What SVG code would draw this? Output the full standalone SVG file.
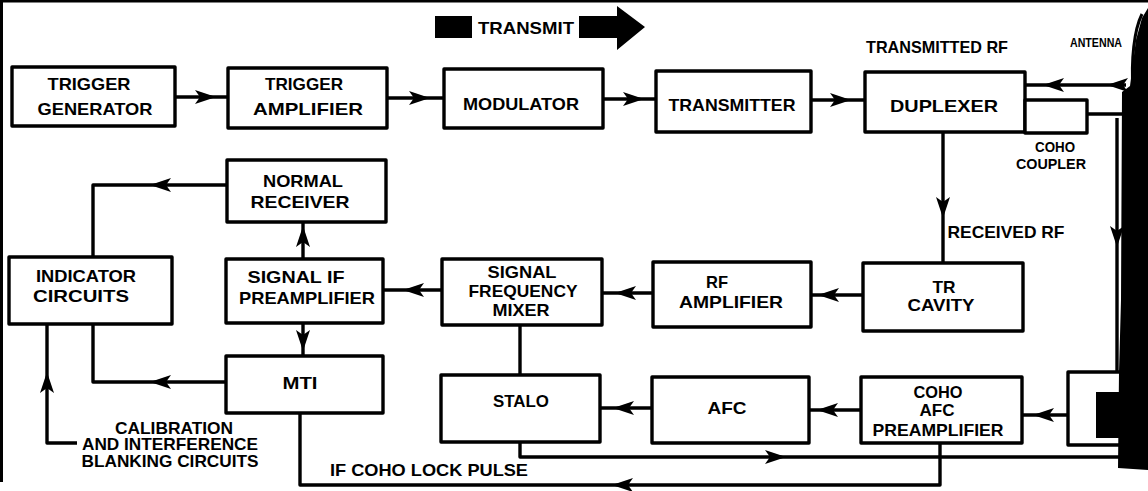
<svg xmlns="http://www.w3.org/2000/svg" xmlns:xlink="http://www.w3.org/1999/xlink" width="1148" height="491" viewBox="0 0 1148 491">
<style>
.box{fill:#fff;stroke:#000;stroke-width:3.4;stroke-linejoin:round}
.ln{fill:none;stroke:#000;stroke-width:3.4;stroke-linejoin:round}
text{font-family:"Liberation Sans",Arial,sans-serif;font-weight:bold;font-size:16.5px;fill:#000;text-anchor:middle}
.sm{font-size:14px}
.xs{font-size:12px}
</style>
<defs>
<path id="ah" d="M0,0 L-21,-7 L-16,0 L-21,7 Z" fill="#000"/>
</defs>
<rect x="0" y="0" width="1148" height="491" fill="#fff"/>
<rect x="0" y="0" width="1148" height="2.5" fill="#000"/>
<rect x="0" y="0" width="3" height="482" fill="#000"/>

<g id="transmit">
<rect x="435" y="16" width="37" height="22" fill="#000"/>
<text x="526" y="34" textLength="96" lengthAdjust="spacingAndGlyphs">TRANSMIT</text>
<polygon points="579,16 617,16 617,6 645,27 617,50 617,38 579,38" fill="#000"/>
</g>

<g id="connectors">
<path class="ln" d="M175,97 H228"/>
<path class="ln" d="M387,98 H444"/>
<path class="ln" d="M603,99 H656"/>
<path class="ln" d="M811,100 H865"/>
<path class="ln" d="M1025,85 H1126"/>
<path class="ln" d="M1087,114 H1126"/>
<path class="ln" d="M943,132 V263"/>
<path class="ln" d="M863,295 H811"/>
<path class="ln" d="M653,293 H602"/>
<path class="ln" d="M442,290 H383"/>
<path class="ln" d="M303,259 V222"/>
<path class="ln" d="M303,323 V356"/>
<path class="ln" d="M227,185 H93 V257"/>
<path class="ln" d="M226,382 H93 V324"/>
<path class="ln" d="M77,443 H47 V324"/>
<path class="ln" d="M520,325 V375"/>
<path class="ln" d="M652,408 H600"/>
<path class="ln" d="M861,410 H809"/>
<path class="ln" d="M1068,415 H1022"/>
<path class="ln" d="M520,442 V457 H1126"/>
<path class="ln" d="M940,443 V485 H300 V413"/>
<path class="ln" d="M1117,118 V372" stroke-width="2.5"/>
<use xlink:href="#ah" transform="translate(216,97)"/>
<use xlink:href="#ah" transform="translate(430,98)"/>
<use xlink:href="#ah" transform="translate(644,99)"/>
<use xlink:href="#ah" transform="translate(851,100)"/>
<use xlink:href="#ah" transform="translate(1043,85) rotate(180)"/>
<use xlink:href="#ah" transform="translate(1107,85) rotate(180)"/>
<use xlink:href="#ah" transform="translate(943,218) rotate(90)"/>
<use xlink:href="#ah" transform="translate(818,295) rotate(180)"/>
<use xlink:href="#ah" transform="translate(615,293) rotate(180)"/>
<use xlink:href="#ah" transform="translate(403,290) rotate(180)"/>
<use xlink:href="#ah" transform="translate(303,226) rotate(-90)"/>
<use xlink:href="#ah" transform="translate(303,351) rotate(90)"/>
<use xlink:href="#ah" transform="translate(150,185) rotate(180)"/>
<use xlink:href="#ah" transform="translate(150,382) rotate(180)"/>
<use xlink:href="#ah" transform="translate(47,372) rotate(-90)"/>
<use xlink:href="#ah" transform="translate(613,408) rotate(180)"/>
<use xlink:href="#ah" transform="translate(817,410) rotate(180)"/>
<use xlink:href="#ah" transform="translate(1033,415) rotate(180)"/>
<use xlink:href="#ah" transform="translate(786,457)"/>
<use xlink:href="#ah" transform="translate(612,485) rotate(180)"/>
<use xlink:href="#ah" transform="translate(1117,247) rotate(90)"/>
</g>

<g id="trigger-generator">
<rect class="box" x="12" y="67" width="163" height="59"/>
<text x="89" y="90" textLength="83" lengthAdjust="spacingAndGlyphs">TRIGGER</text>
<text x="95" y="115" textLength="115" lengthAdjust="spacingAndGlyphs">GENERATOR</text>
</g>
<g id="trigger-amplifier">
<rect class="box" x="228" y="68" width="159" height="60"/>
<text x="304" y="90" textLength="78" lengthAdjust="spacingAndGlyphs">TRIGGER</text>
<text x="308" y="115" textLength="110" lengthAdjust="spacingAndGlyphs">AMPLIFIER</text>
</g>
<g id="modulator">
<rect class="box" x="444" y="69" width="159" height="59"/>
<text x="521" y="110" textLength="116" lengthAdjust="spacingAndGlyphs">MODULATOR</text>
</g>
<g id="transmitter">
<rect class="box" x="656" y="71" width="155" height="61"/>
<text x="732" y="111" textLength="127" lengthAdjust="spacingAndGlyphs">TRANSMITTER</text>
</g>
<g id="duplexer">
<rect class="box" x="865" y="72" width="160" height="60"/>
<text x="944" y="112" textLength="108" lengthAdjust="spacingAndGlyphs">DUPLEXER</text>
</g>
<g id="coho-coupler">
<rect class="box" x="1025" y="100" width="62" height="33"/>
<text class="sm" x="1055" y="152" textLength="40" lengthAdjust="spacingAndGlyphs">COHO</text>
<text class="sm" x="1051" y="169" textLength="70" lengthAdjust="spacingAndGlyphs">COUPLER</text>
</g>
<g id="normal-receiver">
<rect class="box" x="227" y="160" width="159" height="62"/>
<text x="303" y="187" textLength="80" lengthAdjust="spacingAndGlyphs">NORMAL</text>
<text x="300" y="208" textLength="99" lengthAdjust="spacingAndGlyphs">RECEIVER</text>
</g>
<g id="indicator-circuits">
<rect class="box" x="9" y="257" width="163" height="67"/>
<text x="86" y="282" textLength="100" lengthAdjust="spacingAndGlyphs">INDICATOR</text>
<text x="81" y="302" textLength="96" lengthAdjust="spacingAndGlyphs">CIRCUITS</text>
</g>
<g id="signal-if-preamplifier">
<rect class="box" x="226" y="259" width="157" height="64"/>
<text x="296" y="283" textLength="97" lengthAdjust="spacingAndGlyphs">SIGNAL  IF</text>
<text x="307" y="304" textLength="136" lengthAdjust="spacingAndGlyphs">PREAMPLIFIER</text>
</g>
<g id="mti">
<rect class="box" x="226" y="356" width="157" height="57"/>
<text x="300" y="389" textLength="35" lengthAdjust="spacingAndGlyphs">MTI</text>
</g>
<g id="signal-frequency-mixer">
<rect class="box" x="442" y="259" width="160" height="66"/>
<text x="522" y="278" textLength="69" lengthAdjust="spacingAndGlyphs">SIGNAL</text>
<text x="523" y="297" textLength="109" lengthAdjust="spacingAndGlyphs">FREQUENCY</text>
<text x="521" y="316" textLength="57" lengthAdjust="spacingAndGlyphs">MIXER</text>
</g>
<g id="rf-amplifier">
<rect class="box" x="653" y="262" width="158" height="65"/>
<text x="717" y="288">RF</text>
<text x="731" y="308" textLength="104" lengthAdjust="spacingAndGlyphs">AMPLIFIER</text>
</g>
<g id="tr-cavity">
<rect class="box" x="863" y="263" width="160" height="68"/>
<text x="944" y="293" textLength="23" lengthAdjust="spacingAndGlyphs">TR</text>
<text x="941" y="311" textLength="67" lengthAdjust="spacingAndGlyphs">CAVITY</text>
</g>
<g id="stalo">
<rect class="box" x="441" y="375" width="159" height="67"/>
<text x="521" y="407" textLength="56" lengthAdjust="spacingAndGlyphs">STALO</text>
</g>
<g id="afc">
<rect class="box" x="652" y="377" width="157" height="66"/>
<text x="727" y="414" textLength="39" lengthAdjust="spacingAndGlyphs">AFC</text>
</g>
<g id="coho-afc-preamplifier">
<rect class="box" x="861" y="377" width="161" height="66"/>
<text x="938" y="398" textLength="49" lengthAdjust="spacingAndGlyphs">COHO</text>
<text x="937" y="416" textLength="35" lengthAdjust="spacingAndGlyphs">AFC</text>
<text x="938" y="436" textLength="131" lengthAdjust="spacingAndGlyphs">PREAMPLIFIER</text>
</g>
<g id="coho-box">
<rect class="box" x="1068" y="372" width="90" height="73"/>
</g>

<g id="labels">
<text x="937" y="53" textLength="142" lengthAdjust="spacingAndGlyphs">TRANSMITTED RF</text>
<text class="xs" x="1096" y="47" textLength="52" lengthAdjust="spacingAndGlyphs">ANTENNA</text>
<text x="1006" y="238" textLength="117" lengthAdjust="spacingAndGlyphs">RECEIVED RF</text>
<text x="174" y="434" textLength="118" lengthAdjust="spacingAndGlyphs">CALIBRATION</text>
<text x="170" y="450" textLength="176" lengthAdjust="spacingAndGlyphs">AND INTERFERENCE</text>
<text x="170" y="467" textLength="177" lengthAdjust="spacingAndGlyphs">BLANKING CIRCUITS</text>
<text x="429" y="476" textLength="198" lengthAdjust="spacingAndGlyphs">IF  COHO LOCK PULSE</text>
</g>

<g id="scan-edge">
<polygon points="1122,92 1130,86 1136,40 1142,18 1148,8 1148,470 1118,468 1119,372 1121,300" fill="#000"/>
<rect x="1096" y="392" width="34" height="46" fill="#000"/>
<path d="M1133,90 C1131,60 1134,30 1142,14" fill="none" stroke="#000" stroke-width="3"/>
</g>
</svg>
